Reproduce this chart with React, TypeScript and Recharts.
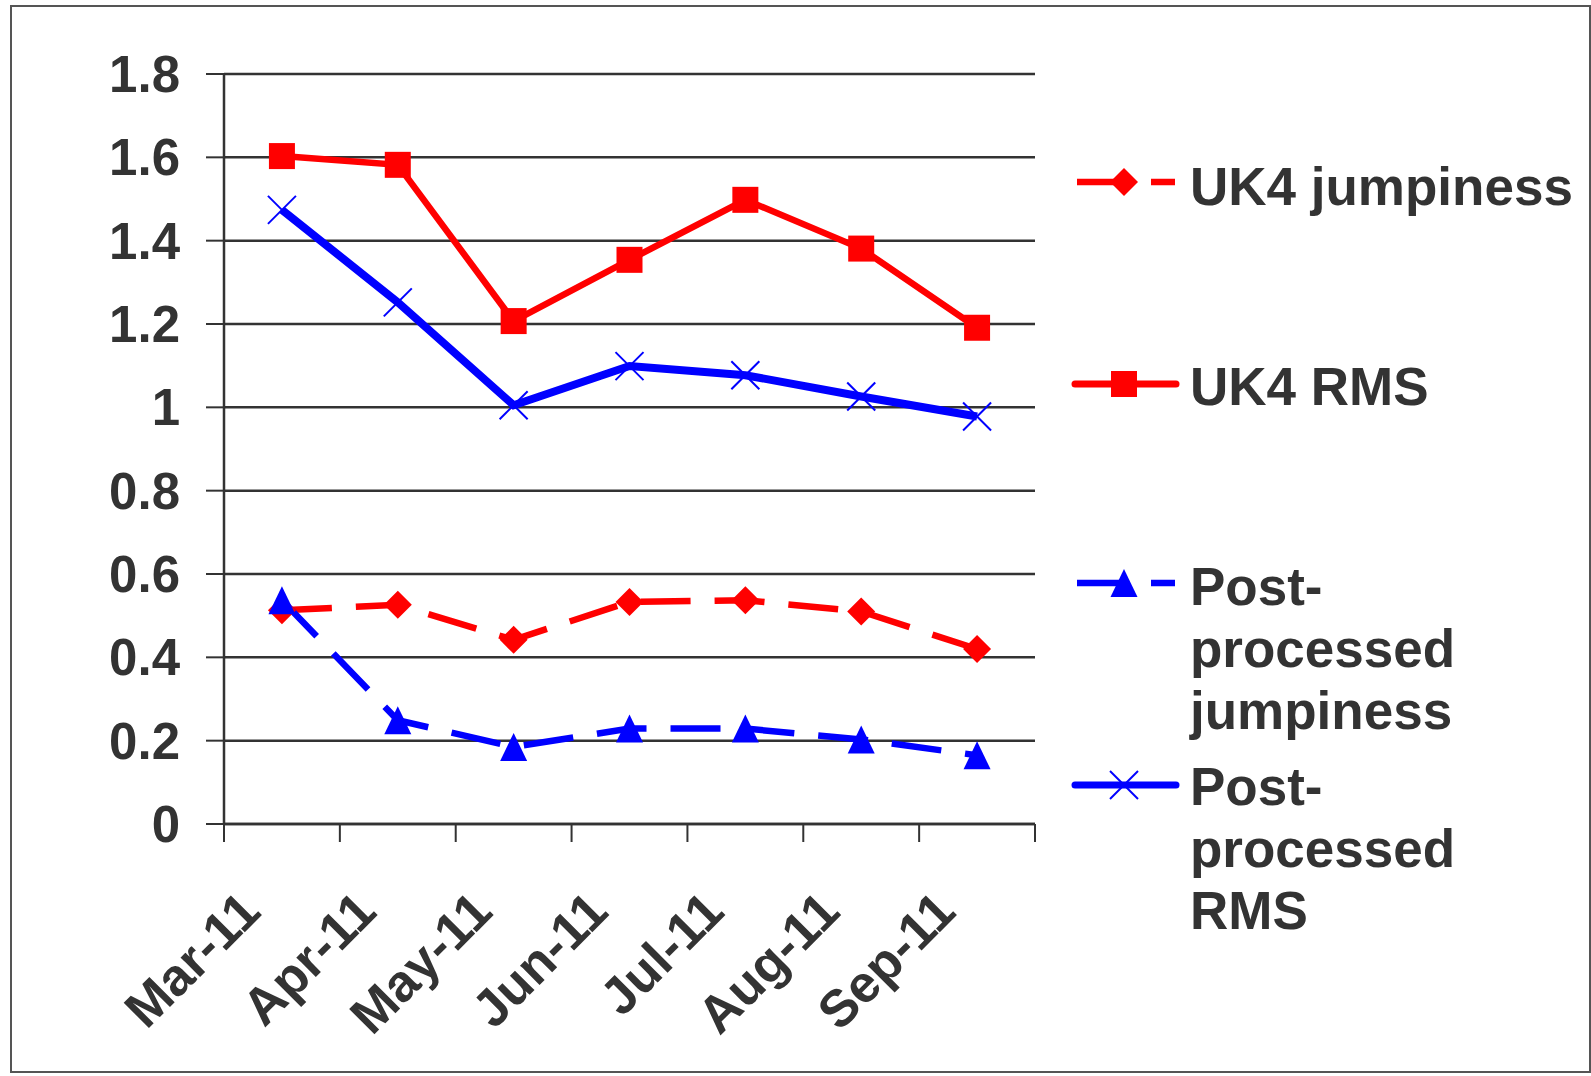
import React from 'react';
import { LineChart, Line, XAxis, YAxis, CartesianGrid, Legend } from 'recharts';

// values
const months = ['Mar-11', 'Apr-11', 'May-11', 'Jun-11', 'Jul-11', 'Aug-11', 'Sep-11'];
const uk4Jumpiness = [0.513, 0.526, 0.442, 0.533, 0.537, 0.51, 0.42];
const uk4Rms = [1.603, 1.582, 1.207, 1.354, 1.498, 1.381, 1.191];
const ppJumpiness = [0.537, 0.249, 0.185, 0.229, 0.229, 0.203, 0.165];
const ppRms = [1.474, 1.252, 1.005, 1.099, 1.077, 1.026, 0.978];
const yTicks = [0, 0.2, 0.4, 0.6, 0.8, 1, 1.2, 1.4, 1.6, 1.8];

const data = months.map((m, i) => ({
  month: m,
  uk4J: uk4Jumpiness[i],
  uk4R: uk4Rms[i],
  ppJ: ppJumpiness[i],
  ppR: ppRms[i],
}));

const RED = '#FF0000';
const BLUE = '#0000FF';
const INK = '#333333';
const FONT = "'Liberation Sans', Arial, Helvetica, sans-serif";
const Y_FONT = 51;
const X_FONT = 52;
const LEGEND_FONT = 53;

const W = 1591;
const H = 1076;
const PLOT_LEFT = 224;
const PLOT_RIGHT = 1035;
const PLOT_TOP = 74;
const PLOT_BOTTOM = 824;
const Y_AXIS_W = 124;
const X_AXIS_H = 200;
const HALF_STEP = (PLOT_RIGHT - PLOT_LEFT) / months.length / 2;
const DASH = '50 24';

const Square = (p: any) => {
  const { cx, cy } = p;
  if (cx == null || cy == null) return null;
  return <rect x={cx - 13} y={cy - 13} width={26} height={26} fill={RED} />;
};

const Diamond = (p: any) => {
  const { cx, cy } = p;
  if (cx == null || cy == null) return null;
  const r = 14;
  return <polygon points={`${cx},${cy - r} ${cx + r},${cy} ${cx},${cy + r} ${cx - r},${cy}`} fill={RED} />;
};

const Triangle = (p: any) => {
  const { cx, cy } = p;
  if (cx == null || cy == null) return null;
  return <polygon points={`${cx},${cy - 14} ${cx + 13.5},${cy + 14} ${cx - 13.5},${cy + 14}`} fill={BLUE} />;
};

const Cross = (p: any) => {
  const { cx, cy } = p;
  if (cx == null || cy == null) return null;
  const r = 14;
  return (
    <g stroke={BLUE} strokeWidth={2}>
      <line x1={cx - r} y1={cy - r} x2={cx + r} y2={cy + r} />
      <line x1={cx - r} y1={cy + r} x2={cx + r} y2={cy - r} />
    </g>
  );
};

const MonthTick = (p: any) => {
  const { x, y, payload, index } = p;
  const last = index === months.length - 1;
  return (
    <g>
      <line x1={x - HALF_STEP} y1={y} x2={x - HALF_STEP} y2={y + 18} stroke={INK} strokeWidth={2} />
      {last && <line x1={x + HALF_STEP} y1={y} x2={x + HALF_STEP} y2={y + 18} stroke={INK} strokeWidth={2} />}
      <text
        transform={`translate(${x - 19},${y + 90}) rotate(-45)`}
        textAnchor="end"
        fontFamily={FONT}
        fontSize={X_FONT}
        fontWeight="bold"
        fill={INK}
      >
        {payload.value}
      </text>
    </g>
  );
};

const LegendBox = () => {
  const txt = { fontFamily: FONT, fontSize: LEGEND_FONT, fontWeight: 'bold' as const, fill: INK };
  const tx = 130;
  const lineH = 62;
  return (
    <svg width={531} height={830} style={{ display: 'block' }}>
      {/* UK4 jumpiness */}
      <line x1={17} y1={52} x2={115} y2={52} stroke={RED} strokeWidth={6.5} strokeDasharray={DASH} />
      <Diamond cx={64} cy={52} />
      <text x={tx} y={75} {...txt}>UK4 jumpiness</text>

      {/* UK4 RMS */}
      <line x1={15} y1={254} x2={116} y2={254} stroke={RED} strokeWidth={7} strokeLinecap="round" />
      <Square cx={64} cy={254} />
      <text x={tx} y={275} {...txt}>UK4 RMS</text>

      {/* Post-processed jumpiness */}
      <line x1={17} y1={453} x2={115} y2={453} stroke={BLUE} strokeWidth={6.5} strokeDasharray={DASH} />
      <Triangle cx={64} cy={453} />
      <text x={tx} y={475} {...txt}>
        <tspan x={tx}>Post-</tspan>
        <tspan x={tx} dy={lineH}>processed</tspan>
        <tspan x={tx} dy={lineH}>jumpiness</tspan>
      </text>

      {/* Post-processed RMS */}
      <line x1={15} y1={655} x2={116} y2={655} stroke={BLUE} strokeWidth={7} strokeLinecap="round" />
      <Cross cx={64} cy={655} />
      <text x={tx} y={675} {...txt}>
        <tspan x={tx}>Post-</tspan>
        <tspan x={tx} dy={lineH}>processed</tspan>
        <tspan x={tx} dy={lineH}>RMS</tspan>
      </text>
    </svg>
  );
};

const fmt = (v: number) => (v === 0 || v === 1 ? String(v) : v.toFixed(1));

export default function App() {
  return (
    <div style={{ position: 'absolute', left: 0, top: 0, width: W, height: H, background: '#fff' }}>
      <div
        style={{
          position: 'absolute',
          left: 10,
          top: 5,
          width: 1581,
          height: 1068,
          border: '2px solid #555',
          boxSizing: 'border-box',
        }}
      />
      <div style={{ position: 'absolute', left: 0, top: 0 }}>
        <LineChart
          width={W}
          height={H}
          data={data}
          margin={{
            top: PLOT_TOP,
            right: W - PLOT_RIGHT,
            bottom: H - PLOT_BOTTOM - X_AXIS_H,
            left: PLOT_LEFT - Y_AXIS_W,
          }}
        >
          <CartesianGrid yAxisId="left" vertical={false} stroke={INK} strokeWidth={2.5} />
          <XAxis
            dataKey="month"
            height={X_AXIS_H}
            padding={{ left: HALF_STEP, right: HALF_STEP }}
            axisLine={{ stroke: INK, strokeWidth: 2.5 }}
            tickLine={false}
            tickSize={0}
            tickMargin={0}
            interval={0}
            tick={<MonthTick />}
          />
          <YAxis
            yAxisId="left"
            width={Y_AXIS_W}
            domain={[0, 1.8]}
            ticks={yTicks}
            tickFormatter={fmt}
            interval={0}
            tickSize={18}
            tickMargin={26}
            axisLine={{ stroke: INK, strokeWidth: 2.5 }}
            tickLine={{ stroke: INK, strokeWidth: 2 }}
            tick={{ fontFamily: FONT, fontSize: Y_FONT, fontWeight: 'bold', fill: INK }}
          />
          <YAxis
            yAxisId="right"
            orientation="right"
            width={0}
            domain={[0, 1]}
            tick={false}
            tickLine={false}
            axisLine={{ stroke: INK, strokeWidth: 2.5 }}
          />
          <Legend
            layout="horizontal"
            verticalAlign="middle"
            align="center"
            wrapperStyle={{ left: 1060, top: 130, width: 531, height: 830 }}
            content={() => <LegendBox />}
          />
          <Line
            yAxisId="left"
            dataKey="uk4J"
            name="UK4 jumpiness"
            stroke={RED}
            strokeWidth={6.5}
            strokeDasharray={DASH}
            dot={<Diamond />}
            activeDot={false}
            isAnimationActive={false}
          />
          <Line
            yAxisId="left"
            dataKey="uk4R"
            name="UK4 RMS"
            stroke={RED}
            strokeWidth={6.5}
            dot={<Square />}
            activeDot={false}
            isAnimationActive={false}
          />
          <Line
            yAxisId="left"
            dataKey="ppJ"
            name="Post-processed jumpiness"
            stroke={BLUE}
            strokeWidth={6.5}
            strokeDasharray={DASH}
            dot={<Triangle />}
            activeDot={false}
            isAnimationActive={false}
          />
          <Line
            yAxisId="left"
            dataKey="ppR"
            name="Post-processed RMS"
            stroke={BLUE}
            strokeWidth={8}
            dot={<Cross />}
            activeDot={false}
            isAnimationActive={false}
          />
        </LineChart>
      </div>
    </div>
  );
}
